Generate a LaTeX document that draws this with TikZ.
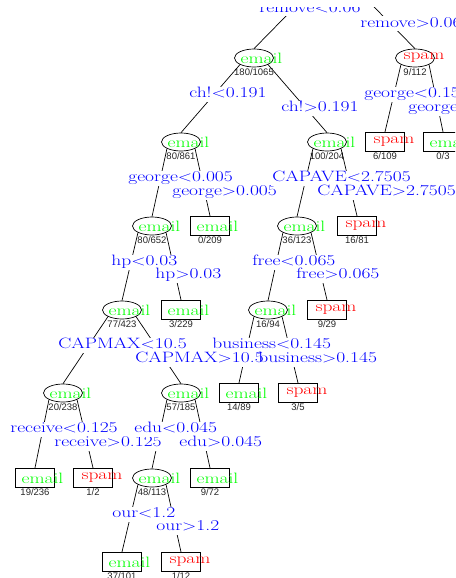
\documentclass[tikz,border=0pt]{standalone}
\usepackage{fontspec}
\usepackage{graphicx}
\usetikzlibrary{shapes.geometric}
\newfontfamily\cntfont{Liberation Sans}
\newcommand{\wtxt}[1]{\scalebox{1.3}[1]{#1}}
\newcommand{\mail}{\makebox[0pt]{\hspace{15pt}\wtxt{email}}}
\newcommand{\spm}{\makebox[0pt]{\hspace{18pt}\wtxt{spam}}}

\begin{document}
\begin{tikzpicture}[x=1pt,y=-1pt,font=\fontsize{15}{16}\selectfont,line width=0.7pt,
 nd/.style={draw,ellipse,inner sep=0pt,minimum width=39pt,minimum height=18pt},
 lf/.style={draw,rectangle,inner sep=0pt,minimum width=39pt,minimum height=19.5pt},
 em/.style={text=green},sm/.style={text=red},
 spl/.style={fill=white,text=blue,anchor=west,inner sep=1pt,text height=10pt,text depth=3pt},
 ct/.style={font=\cntfont\fontsize{9.5}{10}\selectfont,text=black!85,inner sep=0.6pt}]
\useasboundingbox (0,0) rectangle (455,578);
\clip (0,8) rectangle (455,578);
% tree nodes
\node[nd,em,label={[ct]below:180/1065}](n1) at (254,58){\mail};
\node[nd,sm,label={[ct]below:9/112}](n2) at (415,58){\spm};
\node[nd,em,label={[ct]below:80/861}](n3) at (181,142){\mail};
\node[nd,em,label={[ct]below:100/204}](n4) at (327,142){\mail};
\node[lf,sm,label={[ct]below:6/109}](l1) at (385,142){\spm};
\node[lf,em,label={[ct]below:0/3}](l2) at (443,142){\mail};
\node[nd,em,label={[ct]below:80/652}](n5) at (152,226){\mail};
\node[lf,em,label={[ct]below:0/209}](l3) at (210,226){\mail};
\node[nd,em,label={[ct]below:36/123}](n6) at (297,226){\mail};
\node[lf,sm,label={[ct]below:16/81}](l4) at (357,226){\spm};
\node[nd,em,label={[ct]below:77/423}](n7) at (122,310){\mail};
\node[lf,em,label={[ct]below:3/229}](l5) at (181,310){\mail};
\node[nd,em,label={[ct]below:16/94}](n8) at (268,310){\mail};
\node[lf,sm,label={[ct]below:9/29}](l6) at (327,310){\spm};
\node[nd,em,label={[ct]below:20/238}](n9) at (63,393){\mail};
\node[nd,em,label={[ct]below:57/185}](n10) at (181,393){\mail};
\node[lf,em,label={[ct]below:14/89}](l7) at (239,393){\mail};
\node[lf,sm,label={[ct]below:3/5}](l8) at (298,393){\spm};
\node[lf,em,label={[ct]below:19/236}](l9) at (35,478){\mail};
\node[lf,sm,label={[ct]below:1/2}](l10) at (93,478){\spm};
\node[nd,em,label={[ct]below:48/113}](n11) at (152,478){\mail};
\node[lf,em,label={[ct]below:9/72}](l11) at (210,478){\mail};
\node[lf,em,label={[ct]below:37/101}](l12) at (122,562){\mail};
\node[lf,sm,label={[ct]below:1/12}](l13) at (181,562){\spm};
\coordinate (up1) at (320.7,-19.3);\coordinate (up2) at (348.3,-19.3);
% branches
\draw (up1)--(n1.north);\draw (up2)--(n2.north);
\draw (n1.south west)--(n3.north);\draw (n1.south east)--(n4.north);
\draw (n2.south west)--(l1.north);\draw (n2.south east)--(l2.north);
\draw (n3.south west)--(n5.north);\draw (n3.south east)--(l3.north);
\draw (n4.south west)--(n6.north);\draw (n4.south east)--(l4.north);
\draw (n5.south west)--(n7.north);\draw (n5.south east)--(l5.north);
\draw (n6.south west)--(n8.north);\draw (n6.south east)--(l6.north);
\draw (n7.south west)--(n9.north);\draw (n7.south east)--(n10.north);
\draw (n8.south west)--(l7.north);\draw (n8.south east)--(l8.north);
\draw (n9.south west)--(l9.north);\draw (n9.south east)--(l10.north);
\draw (n10.south west)--(n11.north);\draw (n10.south east)--(l11.north);
\draw (n11.south west)--(l12.north);\draw (n11.south east)--(l13.north);
% split labels
\node[spl](s1) at (258,9){\wtxt{remove$<$0.06}};
\node[spl](s2) at (359,24){\wtxt{remove$>$0.06}};
\node[spl](s3) at (188,94){\wtxt{ch!$<$0.191}};
\node[spl](s4) at (280,108){\wtxt{ch!$>$0.191}};
\node[spl](s5) at (363,94){\wtxt{george$<$0.15}};
\node[spl](s6) at (407,108){\wtxt{george$>$0.15}};
\node[spl](s7) at (127,178){\wtxt{george$<$0.005}};
\node[spl](s8) at (171,192){\wtxt{george$>$0.005}};
\node[spl](s9) at (271,178){\wtxt{CAPAVE$<$2.7505}};
\node[spl](s10) at (316,192){\wtxt{CAPAVE$>$2.7505}};
\node[spl](s11) at (110,262){\wtxt{hp$<$0.03}};
\node[spl](s12) at (154,275){\wtxt{hp$>$0.03}};
\node[spl](s13) at (251,262){\wtxt{free$<$0.065}};
\node[spl](s14) at (295,275){\wtxt{free$>$0.065}};
\node[spl](s15) at (57,345){\wtxt{CAPMAX$<$10.5}};
\node[spl](s17) at (211,345){\wtxt{business$<$0.145}};
\node[spl](s16) at (134,359){\wtxt{CAPMAX$>$10.5}};
\node[spl,inner xsep=-5pt](s18) at (263,359){\wtxt{business$>$0.145}};
\node[spl](s19) at (9,429){\wtxt{receive$<$0.125}};
\node[spl](s20) at (53,443){\wtxt{receive$>$0.125}};
\node[spl](s21) at (133,429){\wtxt{edu$<$0.045}};
\node[spl](s22) at (178,443){\wtxt{edu$>$0.045}};
\node[spl](s23) at (111,514){\wtxt{our$<$1.2}};
\node[spl](s24) at (155,527){\wtxt{our$>$1.2}};
\end{tikzpicture}
\end{document}
